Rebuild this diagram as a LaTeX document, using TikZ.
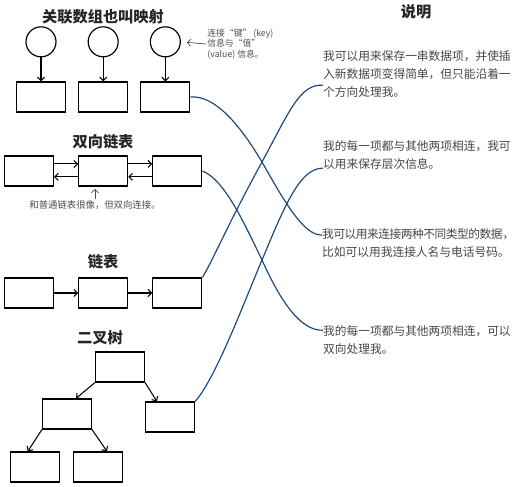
\documentclass[tikz,border=0pt]{standalone}
\usepackage{fontspec}
\setmainfont{Noto Sans CJK SC}
\usetikzlibrary{arrows.meta, positioning}
\definecolor{linkblue}{RGB}{28,72,120}
\definecolor{txtgray}{RGB}{70,70,70}

\begin{document}
\begin{tikzpicture}[
    x=0.03cm, y=-0.03cm,
    box/.style={rectangle, draw, line width=1pt, minimum width=1.47cm, minimum height=0.9cm},
    ball/.style={circle, draw, line width=1pt, minimum size=0.9cm},
    title/.style={font=\fontsize{13}{15}\selectfont\bfseries, text=black!85},
    desc/.style={anchor=north west, inner sep=0pt, align=left, text=txtgray, font=\fontsize{10}{15.5}\selectfont},
    note/.style={align=left, inner sep=1pt, text=black!70},
    arrow/.style={-{Straight Barb[length=3pt, width=6pt]}, line width=0.9pt},
    link/.style={draw=linkblue, line width=1pt}
]
\useasboundingbox (0,0) rectangle (515,486);

% associative array
\node[title] (tam) at (103,17) {关联数组也叫映射};
\node[box] (r1) at (41,97) {};
\node[box, right=0.36cm of r1] (r2) {};
\node[box, right=0.36cm of r2] (r3) {};
\node[ball, above=0.72cm of r1] (c1) {};
\node[ball, above=0.72cm of r2] (c2) {};
\node[ball, above=0.72cm of r3] (c3) {};
\draw[arrow] (c1) -- (r1);
\draw[arrow] (c2) -- (r2);
\draw[arrow] (c3) -- (r3);
\node[note, anchor=west, font=\fontsize{7.5}{9}\selectfont] (note1) at (206,44)
    {连接“键” (key)\\信息与“值”\\(value) 信息。};
\draw[arrow, black!70, line width=0.6pt, shorten >=5pt] (note1.west) -- (c3.east);

% doubly linked list
\node[title] (tdl) at (103,142) {双向链表};
\node[box] (d1) at (29,171) {};
\node[box, right=0.72cm of d1] (d2) {};
\node[box, right=0.72cm of d2] (d3) {};
\draw[arrow] ([yshift=6pt]d1.east) -- ([yshift=6pt]d2.west);
\draw[arrow] ([yshift=-5pt]d2.west) -- ([yshift=-5pt]d1.east);
\draw[arrow] ([yshift=6pt]d2.east) -- ([yshift=6pt]d3.west);
\draw[arrow] ([yshift=-5pt]d3.west) -- ([yshift=-5pt]d2.east);
\node[note, font=\fontsize{8}{9}\selectfont] (note2) at (95,205) {和普通链表很像，但双向连接。};
\draw[arrow, black!70, line width=0.6pt, shorten >=2pt] (note2.north) -- (note2.north |- d2.south);

% linked list
\node[title] (tll) at (103,262) {链表};
\node[box] (l1) at (29,293) {};
\node[box, right=0.72cm of l1] (l2) {};
\node[box, right=0.72cm of l2] (l3) {};
\draw[arrow] (l1) -- (l2);
\draw[arrow] (l2) -- (l3);

% binary tree
\node[title] (tbt) at (100,338) {二叉树};
\node[box] (t0) at (120,367) {};
\node[box] (t1) at (67,414) {};
\node[box] (t2) at (170,417) {};
\node[box] (t3) at (35,467) {};
\node[box] (t4) at (98,467) {};
\draw[arrow] (t0.south west) -- (t1.60);
\draw[arrow] (t0.south east) -- (t2.130);
\draw[arrow] (t1.south west) -- (t3.115);
\draw[arrow] (t1.south east) -- (t4.60);

% descriptions
\node[title] (tex) at (416,12) {说明};
\node[desc] (b1) at (323,50) {我可以用来保存一串数据项，并使插\\入新数据项变得简单，但只能沿着一\\个方向处理我。};
\node[desc] (b2) at (323,140) {我的每一项都与其他两项相连，我可\\以用来保存层次信息。};
\node[desc] (b3) at (322,228) {{\addfontfeature{LetterSpace=-4}我可以用来连接两种不同类型的数据\makebox[0.5em][l]{，}}\\比如可以用我连接人名与电话号码。};
\node[desc] (b4) at (323,325) {我的每一项都与其他两项相连，可以\\双向处理我。};

% matching lines
\draw[link] (r3.east) .. controls (215,95) and (240,125) .. (262,162)
    .. controls (282,197) and (303,236) .. ([yshift=-6pt]b3.north west);
\draw[link] (d3.east) .. controls (225,180) and (245,225) .. (262,260)
    .. controls (280,300) and (300,331) .. ([yshift=-4.5pt]b4.north west);
\draw[link] (l3.north east) .. controls (212,262) and (230,220) .. (262,162)
    .. controls (290,110) and (300,84) .. ([yshift=-30pt]b1.north west);
\draw[link] (t2.north east) .. controls (215,380) and (245,300) .. (262,260)
    .. controls (285,205) and (300,168) .. ([yshift=-24pt]b2.north west);
\end{tikzpicture}
\end{document}
